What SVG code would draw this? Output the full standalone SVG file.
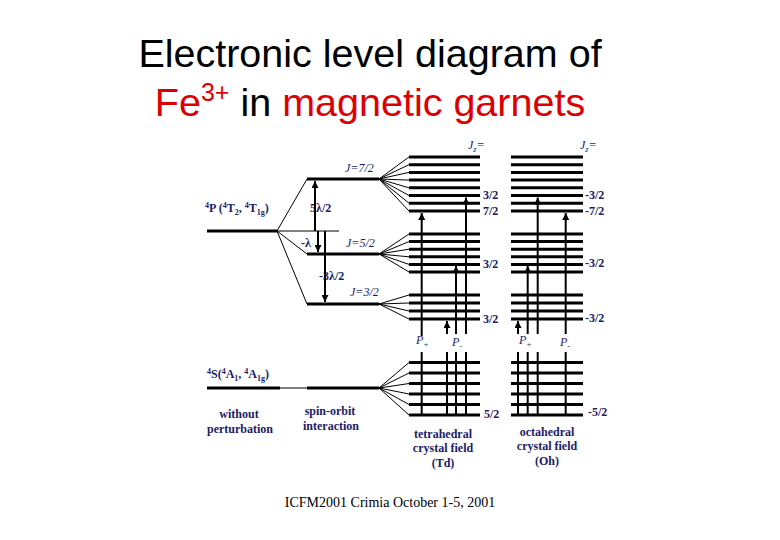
<svg xmlns="http://www.w3.org/2000/svg" width="780" height="540" viewBox="0 0 780 540">
<style>
.t{font-family:"Liberation Sans",Arial,sans-serif;font-size:39.5px;fill:#000}
.r{fill:#dd0000}
.lv{stroke:#000;stroke-width:3;fill:none}
.th{stroke:#000;stroke-width:1;fill:none}
.v{stroke:#000;stroke-width:2;fill:none}
.lb{font-family:"Liberation Serif","Times New Roman",serif;font-size:12px;font-weight:bold;fill:#1c1c66}
.it{font-family:"Liberation Serif","Times New Roman",serif;font-size:12px;font-style:italic;fill:#1c1c66}
.ft{font-family:"Liberation Serif","Times New Roman",serif;font-size:14px;fill:#000}
</style>
<defs>
<marker id="ah" markerUnits="userSpaceOnUse" markerWidth="7" markerHeight="7" refX="7" refY="3.5" orient="auto">
<path d="M0,0 L7,3.5 L0,7 z" fill="#000"/>
</marker>
</defs>
<rect width="780" height="540" fill="#fff"/>

<g id="title">
<text class="t" x="370" y="67" text-anchor="middle">Electronic level diagram of</text>
<text class="t" x="370" y="116" text-anchor="middle"><tspan class="r">Fe</tspan><tspan class="r" font-size="25" dy="-15">3+</tspan><tspan dy="15"> in </tspan><tspan class="r">magnetic garnets</tspan></text>
</g>

<g id="level-P">
<line class="lv" x1="207" y1="231" x2="277" y2="231"/>
<text class="lb" x="205" y="212"><tspan font-size="8" dy="-4">4</tspan><tspan dy="4">P (</tspan><tspan font-size="8" dy="-4">4</tspan><tspan dy="4">T</tspan><tspan font-size="8" dy="3">2</tspan><tspan dy="-3">, </tspan><tspan font-size="8" dy="-4">4</tspan><tspan dy="4">T</tspan><tspan font-size="8" dy="3">1g</tspan><tspan dy="-3">)</tspan></text>
</g>

<g id="level-S">
<line class="lv" x1="207" y1="388" x2="280" y2="388"/>
<text class="lb" x="207" y="378"><tspan font-size="8" dy="-4">4</tspan><tspan dy="4">S(</tspan><tspan font-size="8" dy="-4">4</tspan><tspan dy="4">A</tspan><tspan font-size="8" dy="3">1</tspan><tspan dy="-3">, </tspan><tspan font-size="8" dy="-4">4</tspan><tspan dy="4">A</tspan><tspan font-size="8" dy="3">1g</tspan><tspan dy="-3">)</tspan></text>
</g>

<g id="level-J72">
<line class="lv" x1="307" y1="179" x2="379" y2="179"/>
<text class="it" x="345" y="172">J=7/2</text>
</g>
<g id="level-J52">
<line class="lv" x1="307" y1="254" x2="379" y2="254"/>
<text class="it" x="346" y="247">J=5/2</text>
</g>
<g id="level-J32">
<line class="lv" x1="307" y1="304" x2="379" y2="304"/>
<text class="it" x="350" y="296">J=3/2</text>
</g>
<g id="level-S52">
<line class="lv" x1="307" y1="388" x2="379" y2="388"/>
</g>

<g id="labels">
<text class="lb" x="310" y="212">5λ/2</text>
<text class="lb" x="301" y="247">-λ</text>
<text class="lb" x="319" y="280">-3λ/2</text>
<text class="lb" text-anchor="middle" x="239" y="418">without</text>
<text class="lb" text-anchor="middle" x="240" y="433">perturbation</text>
<text class="lb" text-anchor="middle" x="330" y="415">spin-orbit</text>
<text class="lb" text-anchor="middle" x="331" y="430">interaction</text>
<text class="lb" text-anchor="middle" x="443" y="438">tetrahedral</text>
<text class="lb" text-anchor="middle" x="443" y="452">crystal field</text>
<text class="lb" text-anchor="middle" x="443" y="467">(Td)</text>
<text class="lb" text-anchor="middle" x="547" y="436">octahedral</text>
<text class="lb" text-anchor="middle" x="547" y="450">crystal field</text>
<text class="lb" text-anchor="middle" x="547" y="465">(Oh)</text>
<text class="ft" text-anchor="middle" x="390" y="507">ICFM2001 Crimia October 1-5, 2001</text>
</g>

<g id="Td-column">
<text class="it" x="468" y="149">J<tspan font-size="8" dy="3">z</tspan><tspan dy="-3">=</tspan></text>
<path class="lv" d="M409,157H480M409,164.7H480M409,172.4H480M409,180.1H480M409,187.8H480M409,195.5H480M409,203.2H480M409,211H480"/>
<path class="lv" d="M409,234H480M409,241.6H480M409,249.2H480M409,256.8H480M409,264.4H480M409,272H480"/>
<path class="lv" d="M409,295H480M409,303H480M409,311H480M409,319H480"/>
<path class="lv" d="M409,362.5H480M409,373H480M409,383.5H480M409,394H480M409,404.5H480M409,415H480"/>
<text class="lb" x="483" y="199">3/2</text>
<text class="lb" x="483" y="215">7/2</text>
<text class="lb" x="483" y="268">3/2</text>
<text class="lb" x="483" y="323">3/2</text>
<text class="lb" x="484" y="418">5/2</text>
<text class="it" x="416" y="344">P<tspan font-size="8" dy="3">+</tspan></text>
<text class="it" x="452" y="346">P<tspan font-size="8" dy="3">-</tspan></text>
</g>

<g id="Oh-column">
<text class="it" x="580" y="149">J<tspan font-size="8" dy="3">z</tspan><tspan dy="-3">=</tspan></text>
<path class="lv" d="M511,157H583M511,164.7H583M511,172.4H583M511,180.1H583M511,187.8H583M511,195.5H583M511,203.2H583M511,211H583"/>
<path class="lv" d="M511,234H583M511,241.6H583M511,249.2H583M511,256.8H583M511,264.4H583M511,272H583"/>
<path class="lv" d="M511,295H583M511,303H583M511,311H583M511,319H583"/>
<path class="lv" d="M511,362.5H583M511,373H583M511,383.5H583M511,394H583M511,404.5H583M511,415H583"/>
<text class="lb" x="585" y="199">-3/2</text>
<text class="lb" x="585" y="215">-7/2</text>
<text class="lb" x="585" y="267">-3/2</text>
<text class="lb" x="585" y="322">-3/2</text>
<text class="lb" x="588" y="416">-5/2</text>
<text class="it" x="519" y="344">P<tspan font-size="8" dy="3">+</tspan></text>
<text class="it" x="560" y="346">P<tspan font-size="8" dy="3">-</tspan></text>
</g>

<g id="connectors">
<line class="th" x1="277" y1="231" x2="339" y2="231"/>
<line class="th" x1="277" y1="231" x2="307" y2="179"/>
<line class="th" x1="277" y1="231" x2="307" y2="254"/>
<line class="th" x1="277" y1="231" x2="307" y2="304"/>
<line class="th" x1="280" y1="388" x2="307" y2="388"/>
<line class="v" x1="315" y1="231" x2="315" y2="181" marker-end="url(#ah)"/>
<line class="v" x1="318" y1="231" x2="318" y2="252" marker-end="url(#ah)"/>
<line class="v" x1="325" y1="231" x2="325" y2="302" marker-end="url(#ah)"/>
<path class="th" d="M379,179L409,157M379,179L409,164.7M379,179L409,172.4M379,179L409,180.1M379,179L409,187.8M379,179L409,195.5M379,179L409,203.2M379,179L409,211"/>
<path class="th" d="M379,254L409,234M379,254L409,241.6M379,254L409,249.2M379,254L409,256.8M379,254L409,264.4M379,254L409,272"/>
<path class="th" d="M379,304L409,295M379,304L409,303M379,304L409,311M379,304L409,319"/>
<path class="th" d="M379,388L409,362.5M379,388L409,373M379,388L409,383.5M379,388L409,394M379,388L409,404.5M379,388L409,415"/>
<path class="v" d="M421.7,415V352M447,415V352M456,415V352M466,415V352M518,415V352M527.7,415V352M537.7,415V352M565.7,415V352"/>
<line class="v" x1="421.7" y1="336" x2="421.7" y2="213" marker-end="url(#ah)"/>
<line class="v" x1="447" y1="334" x2="447" y2="321" marker-end="url(#ah)"/>
<line class="v" x1="456" y1="334" x2="456" y2="266" marker-end="url(#ah)"/>
<line class="v" x1="466" y1="334" x2="466" y2="197.5" marker-end="url(#ah)"/>
<line class="v" x1="518" y1="334" x2="518" y2="321" marker-end="url(#ah)"/>
<line class="v" x1="527.7" y1="334" x2="527.7" y2="266" marker-end="url(#ah)"/>
<line class="v" x1="537.7" y1="334" x2="537.7" y2="197.5" marker-end="url(#ah)"/>
<line class="v" x1="565.7" y1="334" x2="565.7" y2="213" marker-end="url(#ah)"/>
</g>
</svg>
